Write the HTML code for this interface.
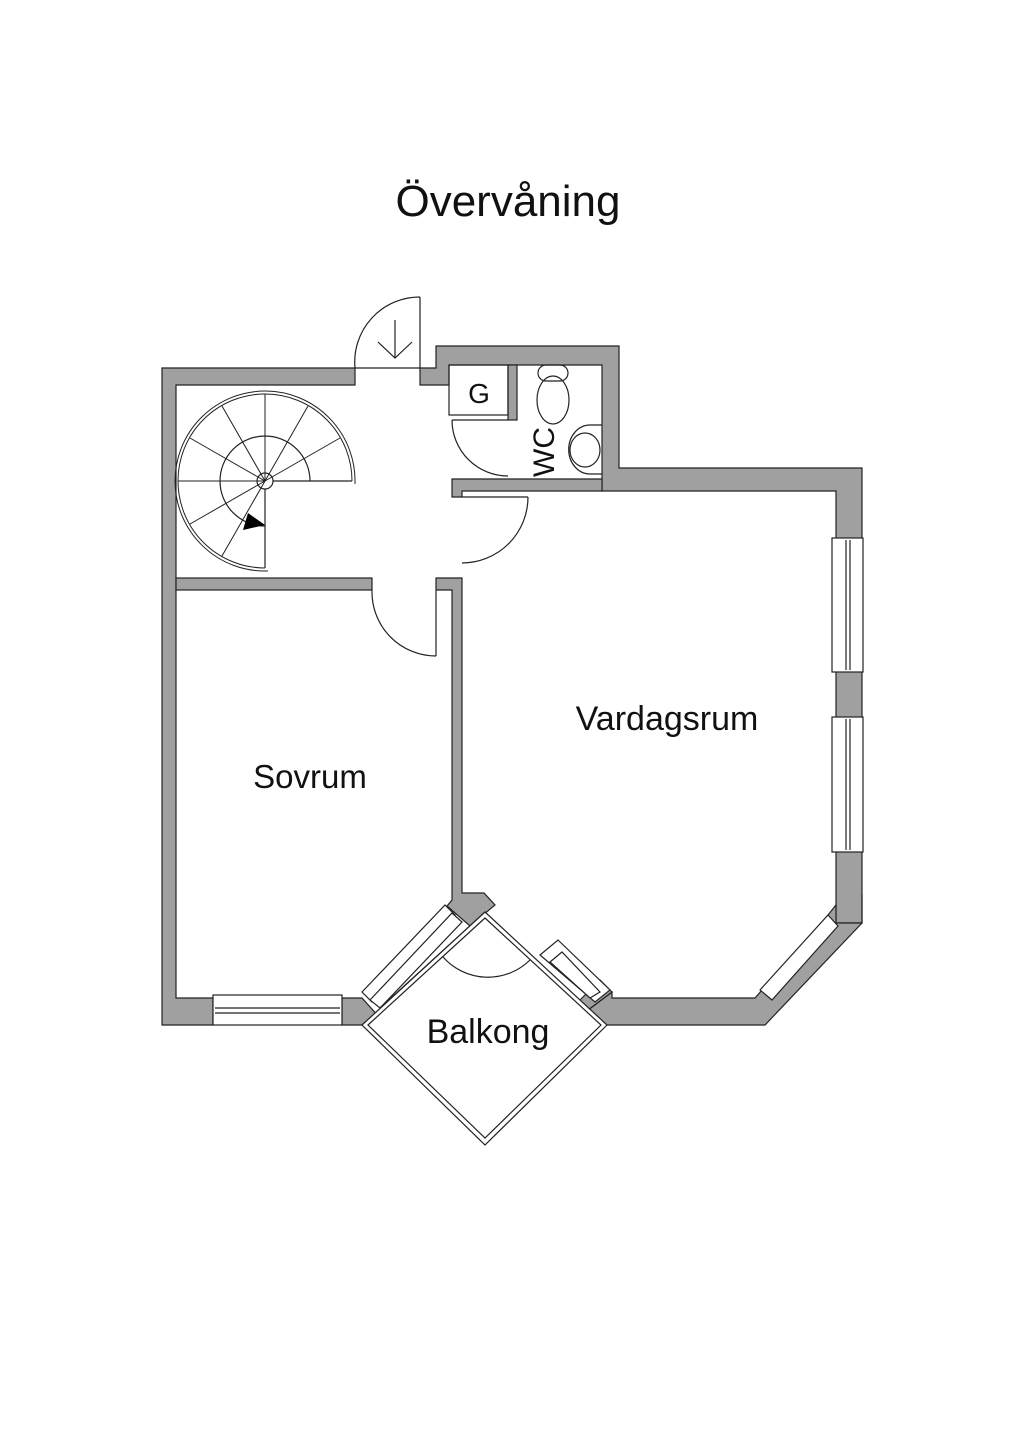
<!DOCTYPE html>
<html><head><meta charset="utf-8"><style>
body{margin:0;background:#fff;}
svg{display:block;}
text{font-family:"Liberation Sans",sans-serif;fill:#111;}
</style></head><body>
<svg width="1024" height="1448" viewBox="0 0 1024 1448" xmlns="http://www.w3.org/2000/svg">
<text x="508" y="216" font-size="44" text-anchor="middle">Övervåning</text>
<g fill="#a0a0a0" stroke="#222" stroke-width="1.2">
<polygon points="162,368 355,368 355,385 176,385 176,998 213,998 213,1025 162,1025"/>
<polygon points="420,368 436,368 436,346 619,346 619,468 862,468 862,923 836,923 836,491 602,491 602,365 449,365 449,385 420,385"/>
<rect x="508" y="365" width="9" height="55"/>
<polygon points="452,479 602,479 602,491 462,491 462,497 452,497"/>
<rect x="176" y="578" width="196" height="12"/>
<polygon points="436,578 462,578 462,893 484,893 495,905 470,926 447,906 452,900 452,590 436,590"/>
<polygon points="836,923 862,923 862,895 862,923 765,1025 598,1025 588,1010 612,992 612,998 755,998 828,915 836,905"/>
<polygon points="342,998 362,998 380,1018 368,1025 342,1025"/>
<polygon points="588,1010 612,992 600,980 580,1000"/>
</g>
<g fill="#fff" stroke="#222" stroke-width="1.2">
<rect x="832" y="538" width="31" height="134"/>
<line x1="846" y1="540" x2="846" y2="670"/><line x1="850" y1="540" x2="850" y2="670"/>
<rect x="832" y="717" width="31" height="135"/>
<line x1="846" y1="719" x2="846" y2="850"/><line x1="850" y1="719" x2="850" y2="850"/>
<rect x="213" y="995" width="129" height="30"/>
<line x1="215" y1="1008" x2="340" y2="1008"/><line x1="215" y1="1013" x2="340" y2="1013"/>
<polygon points="362,992 445,905 455,915 372,1002"/>
<polygon points="370,1000 452,913 462,922 380,1008"/>
<polygon points="380,1008 470,926 485,912 492,920 386,1022"/>
<polygon points="540,955 558,940 610,990 595,1002"/>
<polygon points="550,962 562,952 600,992 590,998"/>
<polygon points="760,990 828,915 838,926 772,1000"/>
<polygon points="362,1025 485,912 607,1025 485,1145"/>
<polygon points="368,1025 485,918 601,1025 485,1138"/>
</g>
<g fill="none" stroke="#222" stroke-width="1.2">
<line x1="420" y1="297" x2="420" y2="368"/>
<path d="M420 297 A65 65 0 0 0 355 368"/>
<line x1="355" y1="368" x2="420" y2="368"/>
<line x1="395" y1="320" x2="395" y2="358"/><polyline points="378,342 395,358 412,342"/>
<rect x="449" y="365" width="59" height="50"/>
<path d="M452 420 A56 56 0 0 0 508 476"/><line x1="452" y1="420" x2="508" y2="420"/>
<line x1="462" y1="497" x2="528" y2="497"/>
<path d="M528 497 A66 66 0 0 1 462 563"/>
<line x1="436" y1="590" x2="436" y2="656"/>
<path d="M372 590 A64 64 0 0 0 436 656"/>
<path d="M443 957 A60 60 0 0 0 530 960"/>
<rect x="538" y="365" width="30" height="16" rx="8"/>
<ellipse cx="553" cy="400" rx="16" ry="24"/>
<path d="M602 425 L590 425 A20 23 0 0 0 590 474 L602 474"/>
<ellipse cx="585" cy="450" rx="15" ry="17"/>
<path d="M352 481 A87 87 0 1 0 265 568" stroke-width="1"/>
<path d="M355 484 A90 90 0 1 0 268 571" stroke-width="1"/>
<path d="M310 481 A45 45 0 1 0 265 526"/>
<line x1="273" y1="481" x2="352" y2="481"/>
<line x1="265" y1="489" x2="265" y2="568"/>
<circle cx="265" cy="481" r="8"/>
</g>
<g stroke="#222" stroke-width="1">
<line x1="265" y1="481" x2="340" y2="438"/>
<line x1="265" y1="481" x2="308" y2="406"/>
<line x1="265" y1="481" x2="265" y2="394"/>
<line x1="265" y1="481" x2="222" y2="406"/>
<line x1="265" y1="481" x2="190" y2="438"/>
<line x1="265" y1="481" x2="178" y2="481"/>
<line x1="265" y1="481" x2="190" y2="524"/>
<line x1="265" y1="481" x2="222" y2="556"/>
</g>
<polygon points="248,513 265,525 243,530" fill="#000"/>
<text x="479" y="403" font-size="28" text-anchor="middle">G</text>
<text x="0" y="0" font-size="30" text-anchor="middle" transform="translate(554,452) rotate(-90)">WC</text>
<text x="667" y="730" font-size="34" text-anchor="middle">Vardagsrum</text>
<text x="310" y="788" font-size="33" text-anchor="middle">Sovrum</text>
<text x="488" y="1043" font-size="34" text-anchor="middle">Balkong</text>
</svg>
</body></html>
